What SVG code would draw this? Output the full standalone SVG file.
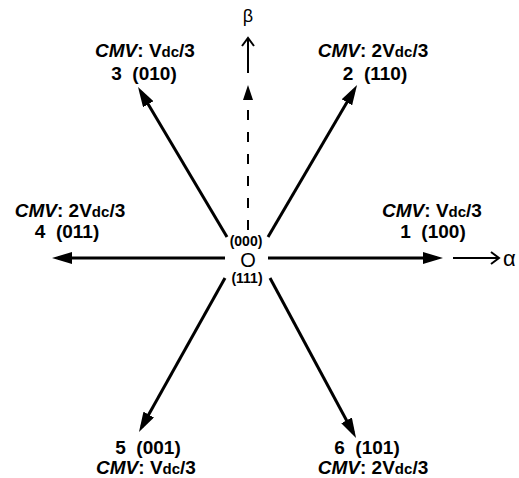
<svg xmlns="http://www.w3.org/2000/svg" width="519" height="478" viewBox="0 0 519 478">
<style>
.t{font-family:"Liberation Sans",Arial,sans-serif;font-weight:bold;font-size:19px;text-anchor:middle;fill:#000;white-space:pre}
.s{font-size:15px}
.i{font-style:italic}
.c{font-family:"Liberation Sans",Arial,sans-serif;font-weight:bold;font-size:14px;text-anchor:middle;fill:#000}
.g{font-family:"Liberation Sans",Arial,sans-serif;fill:#000}
.v{stroke:#000;stroke-width:3;fill:none;marker-end:url(#ah)}
.thin{stroke:#000;stroke-width:2;fill:none}
</style>
<defs>
<marker id="ah" markerUnits="userSpaceOnUse" markerWidth="20" markerHeight="12" refX="14" refY="6" orient="auto">
<path d="M0,0 L20,6 L0,12 z" fill="#000"/>
</marker>
</defs>
<rect width="519" height="478" fill="#fff"/>
<g id="connectors">
<line class="v" x1="268" y1="258" x2="437" y2="258"/>
<line class="v" x1="225" y1="258" x2="58" y2="258"/>
<line class="v" x1="268" y1="237" x2="354" y2="90.2"/>
<line class="v" x1="227" y1="237" x2="141.1" y2="92.2"/>
<line class="v" x1="225" y1="278" x2="141.9" y2="426.8"/>
<line class="v" x1="270" y1="278" x2="353.2" y2="432.7"/>
<line class="thin" x1="248" y1="230" x2="248" y2="100" stroke-dasharray="10 12"/>
<polygon points="248,85 243,100 253,100" fill="#000"/>
<line class="thin" x1="248" y1="73" x2="248" y2="38"/>
<polyline class="thin" points="242,46 248,38 254,46"/>
<line class="thin" x1="453" y1="258" x2="499" y2="258"/>
<polyline class="thin" points="491,252 499,258 491,264"/>
</g>
<g id="origin">
<text class="c" x="246" y="246">(000)</text>
<text class="g" x="248" y="267" font-size="20" text-anchor="middle">O</text>
<text class="c" x="247" y="283">(111)</text>
</g>
<g id="beta"><text class="g" x="248" y="22" font-size="18" text-anchor="middle">β</text></g>
<g id="alpha"><text class="g" x="503" y="266" font-size="22">α</text></g>
<g id="v1">
<text class="t" x="432" y="217"><tspan class="i">CMV</tspan>: V<tspan class="s">dc</tspan>/3</text>
<text class="t" x="433" y="238">1  (100)</text>
</g>
<g id="v2">
<text class="t" x="373" y="57"><tspan class="i">CMV</tspan>: 2V<tspan class="s">dc</tspan>/3</text>
<text class="t" x="375" y="80">2  (110)</text>
</g>
<g id="v3">
<text class="t" x="145" y="57"><tspan class="i">CMV</tspan>: V<tspan class="s">dc</tspan>/3</text>
<text class="t" x="144" y="80">3  (010)</text>
</g>
<g id="v4">
<text class="t" x="70" y="217"><tspan class="i">CMV</tspan>: 2V<tspan class="s">dc</tspan>/3</text>
<text class="t" x="67" y="238">4  (011)</text>
</g>
<g id="v5">
<text class="t" x="148" y="454">5  (001)</text>
<text class="t" x="146" y="474"><tspan class="i">CMV</tspan>: V<tspan class="s">dc</tspan>/3</text>
</g>
<g id="v6">
<text class="t" x="367" y="454">6  (101)</text>
<text class="t" x="373" y="474"><tspan class="i">CMV</tspan>: 2V<tspan class="s">dc</tspan>/3</text>
</g>
</svg>
